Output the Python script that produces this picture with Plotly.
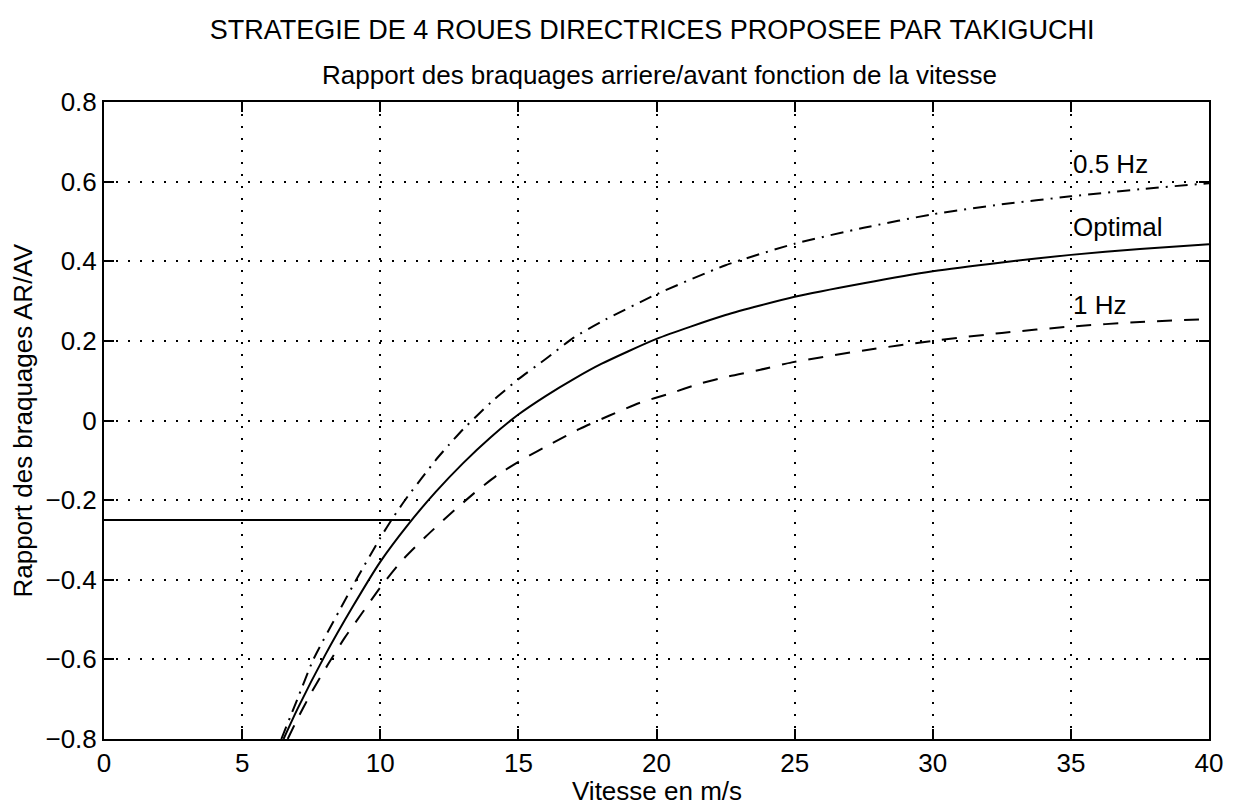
import plotly.graph_objects as go

# vitesse (m/s) and rapport AR/AV
v_opt = [6.5, 7.0, 8.0, 9.0, 10.0, 11.0, 12.0, 13.0, 14.0, 15.0, 16.0, 17.0, 18.0,
         20.0, 22.5, 25.0, 27.5, 30.0, 32.5, 35.0, 37.5, 40.0]
r_opt = [-0.80, -0.725, -0.59, -0.468, -0.355, -0.262, -0.18, -0.107, -0.042, 0.015,
         0.062, 0.104, 0.142, 0.205, 0.265, 0.311, 0.345, 0.375, 0.397, 0.416,
         0.431, 0.443]

v_05hz = [6.42, 7.0, 7.58, 8.5, 9.13, 10.0, 10.5, 11.0, 11.5, 12.0, 12.5, 13.0, 13.5,
          14.0, 14.5, 15.0, 16.0, 17.0, 18.0, 20.0, 22.5, 25.0, 27.5, 30.0, 32.5,
          35.0, 37.5, 40.0]
r_05hz = [-0.80, -0.70, -0.60, -0.48, -0.40, -0.295, -0.24, -0.19, -0.145, -0.10,
          -0.06, -0.022, 0.012, 0.045, 0.075, 0.104, 0.155, 0.208, 0.248, 0.317,
          0.39, 0.444, 0.484, 0.518, 0.543, 0.563, 0.581, 0.596]

v_1hz = [6.65, 6.97, 7.51, 8.11, 8.71, 9.35, 10.03, 10.81, 11.65, 12.49, 13.39, 14.23,
         15.19, 16.2, 17.22, 18.3, 19.38, 20.46, 21.54, 22.62, 23.76, 24.9, 27.5,
         30.0, 32.5, 35.0, 37.5, 40.0]
r_1hz = [-0.80, -0.754, -0.683, -0.6125, -0.546, -0.483, -0.4165, -0.35, -0.2915,
         -0.2375, -0.183, -0.1375, -0.096, -0.058, -0.021, 0.0125, 0.044, 0.067,
         0.092, 0.111, 0.1275, 0.146, 0.176, 0.2, 0.22, 0.236, 0.2475, 0.255]

# saturation basse vitesse
v_sat = [0.0, 11.08]
r_sat = [-0.25, -0.25]

labels = ['0.5 Hz', 'Optimal', '1 Hz']
label_y = [0.645, 0.485, 0.29]

FONT = 'Liberation Sans, Arial, sans-serif'
FS = 26

fig = go.Figure()
fig.add_trace(go.Scatter(x=v_opt, y=r_opt, mode='lines',
                         line=dict(color='black', width=2, shape='spline', smoothing=0.6)))
fig.add_trace(go.Scatter(x=v_sat, y=r_sat, mode='lines',
                         line=dict(color='black', width=2)))
fig.add_trace(go.Scatter(x=v_05hz, y=r_05hz, mode='lines',
                         line=dict(color='black', width=2, dash='13px,7px,2px,7px',
                                   shape='spline', smoothing=0.6)))
fig.add_trace(go.Scatter(x=v_1hz, y=r_1hz, mode='lines',
                         line=dict(color='black', width=2, dash='15px,12px',
                                   shape='spline', smoothing=0.6)))

for txt, yy in zip(labels, label_y):
    fig.add_annotation(x=35, y=yy, text=txt, showarrow=False, xanchor='left',
                       yanchor='middle', font=dict(size=FS, color='black', family=FONT))

# sous-titre, titres d'axes
fig.add_annotation(x=0.503, y=1.0, xref='paper', yref='paper', yshift=27, yanchor='middle',
                   text='Rapport des braquages arriere/avant fonction de la vitesse',
                   showarrow=False, font=dict(size=FS, color='black', family=FONT))
fig.add_annotation(x=0.5, y=0.0, xref='paper', yref='paper', yshift=-52, yanchor='middle',
                   text='Vitesse en m/s',
                   showarrow=False, font=dict(size=FS, color='black', family=FONT))
fig.add_annotation(x=0.0, y=0.5, xref='paper', yref='paper', xshift=-82, xanchor='center',
                   textangle=-90, text='Rapport des braquages AR/AV',
                   showarrow=False, font=dict(size=FS, color='black', family=FONT))

axis = dict(
    showline=True, linecolor='black', linewidth=2, mirror='ticks',
    ticks='inside', ticklen=10, tickwidth=2, tickcolor='black',
    showgrid=True, gridcolor='black', griddash='2px,10px', gridwidth=1.5,
    zeroline=False, ticklabeloverflow='allow',
    tickfont=dict(size=FS, color='black', family=FONT),
)

fig.update_layout(
    width=1235, height=807,
    paper_bgcolor='white', plot_bgcolor='white',
    showlegend=False,
    margin=dict(l=104, r=19, t=102, b=68),
    title=dict(text='STRATEGIE DE 4 ROUES DIRECTRICES PROPOSEE PAR TAKIGUCHI',
               xref='paper', x=0.496, xanchor='center', y=1 - 30 / 807, yanchor='middle',
               font=dict(size=27, color='black', family=FONT)),
    xaxis=dict(axis, range=[0, 40], dtick=5, tick0=0),
    yaxis=dict(axis, range=[-0.8, 0.8], dtick=0.2, tick0=-0.8),
)

# no page margin so the figure sits at the top-left corner of the window
fig.write_html('out.html', config={'displayModeBar': False},
               post_script="document.body.style.margin='0';")
